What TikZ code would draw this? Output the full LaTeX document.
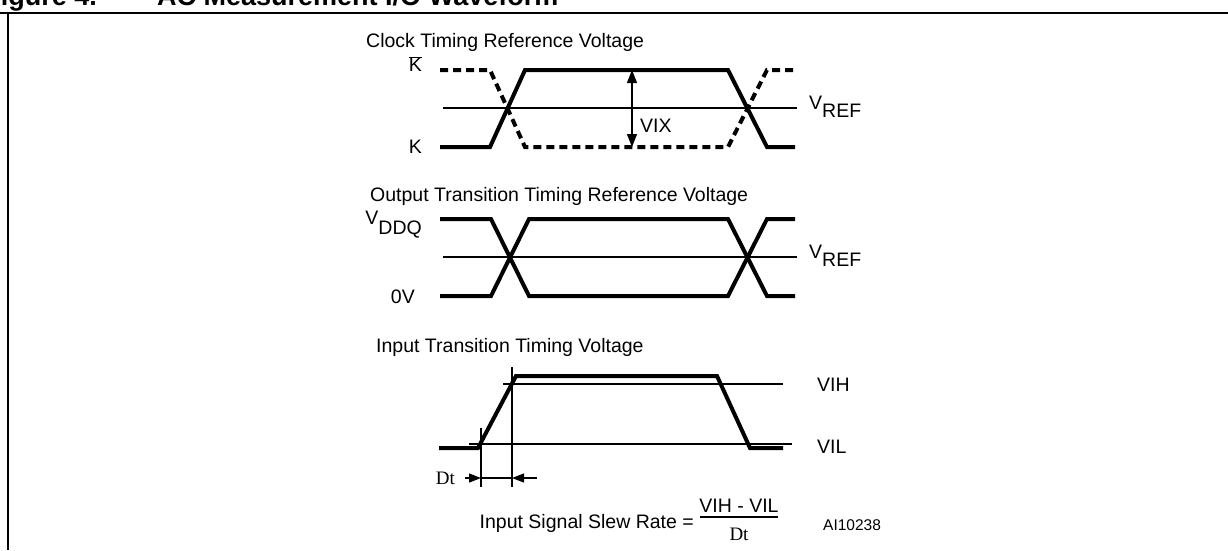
\documentclass[tikz,border=0pt]{standalone}
\usepackage{fontspec}
\setmainfont{Liberation Sans}
\newfontfamily\serifdt{Liberation Serif}
\usetikzlibrary{arrows.meta}
\begin{document}
\begin{tikzpicture}[x=1pt,y=-1pt,
  wave/.style={line width=4pt},
  dwave/.style={line width=4pt,dash pattern=on 8pt off 5pt},
  thin/.style={line width=1.3pt},
  lbl/.style={inner sep=0pt,font=\fontsize{19.5}{23}\selectfont},
  small/.style={inner sep=0pt,font=\fontsize{15.5}{18}\selectfont},
  dtf/.style={inner sep=0pt,font=\serifdt\fontsize{19}{22}\selectfont},
  dimarr/.style={thin,-{Triangle[length=12pt,width=9pt]}},
  bothdim/.style={thin,{Triangle[length=13pt,width=10pt]}-{Triangle[length=13pt,width=10pt]}}]
\useasboundingbox (0,0) rectangle (1228,550);
\clip (0,0) rectangle (1228,550);
% heading and frame
\node[inner sep=0pt,anchor=base east,font=\bfseries\fontsize{27}{30}\selectfont] (fig) at (97,5) {Figure 4.};
\node[inner sep=0pt,anchor=base west,font=\bfseries\fontsize{27}{30}\selectfont] (figt) at (157,5) {AC Measurement I/O Waveform};
\draw[line width=2.3pt] (0,13) -- (1228,13);
\draw[line width=1.6pt] (8,13) -- (8,550);

% ---------- clock ----------
\node[lbl,anchor=base west] (tclk) at (366,47) {Clock Timing Reference Voltage};
\node[lbl,anchor=east] (kbar) at (422,64) {$\overline{\hbox{K}}$};
\node[lbl,anchor=east] (k) at (422,147) {K};
\draw[thin] (443,108) -- (797,108);
\draw[dwave] (440,70) -- (490,70) -- (525,147) -- (728,147) -- (767,70) -- (795,70);
\draw[wave] (440,147) -- (490,147) -- (525,70) -- (728,70) -- (767,147) -- (795,147);
\coordinate (vixt) at (632,70);
\coordinate (vixb) at (632,147);
\draw[bothdim] (vixt) -- (vixb);
\node[lbl,anchor=west] (vix) at (640,126) {VIX};
\node[lbl,anchor=west] (vref1) at (809,107) {V\raisebox{-8pt}{REF}};

% ---------- output ----------
\node[lbl,anchor=base west] (tout) at (370,201) {Output Transition Timing Reference Voltage};
\node[lbl,anchor=base east] (vddq) at (422,224) {V\raisebox{-10pt}{DDQ}};
\node[lbl,anchor=east] (zero) at (415,297) {0V};
\draw[thin] (443,257) -- (797,257);
\draw[wave] (440,219) -- (491,219) -- (529,296) -- (728,296) -- (767,219) -- (795,219);
\draw[wave] (440,296) -- (491,296) -- (529,219) -- (728,219) -- (767,296) -- (795,296);
\node[lbl,anchor=west] (vref2) at (809,256) {V\raisebox{-8pt}{REF}};

% ---------- input ----------
\node[lbl,anchor=base west] (tin) at (376,352) {Input Transition Timing Voltage};
\draw[thin] (503,384) -- (783,384);
\draw[thin] (469,444) -- (792,444);
\draw[wave] (439,448) -- (478,448) -- (516,376) -- (717,376) -- (750,448) -- (783,448);
\draw[thin] (481,428) -- (481,487);
\draw[thin] (512,367) -- (512,487);
\node[lbl,anchor=west] (vih) at (817,385) {VIH};
\node[lbl,anchor=west] (vil) at (817,447) {VIL};
\node[dtf,anchor=east] (dt) at (455,478) {Dt};
\coordinate (dl) at (481,478);
\coordinate (dr) at (512,478);
\coordinate (dls) at (465,478);
\coordinate (drs) at (537,478);
\draw[dimarr] (dls) -- (dl);
\draw[thin] (dl) -- (dr);
\draw[dimarr] (drs) -- (dr);

% slew rate formula
\node[lbl,anchor=east] (slew) at (694,523) {Input Signal Slew Rate =};
\node[lbl] (num) at (739,506) {VIH - VIL};
\node[dtf] (den) at (739,534) {Dt};
\draw[line width=1.2pt] (700,517) -- (778,517);
\node[small,anchor=west] (ai) at (823,525) {AI10238};
\end{tikzpicture}
\end{document}
